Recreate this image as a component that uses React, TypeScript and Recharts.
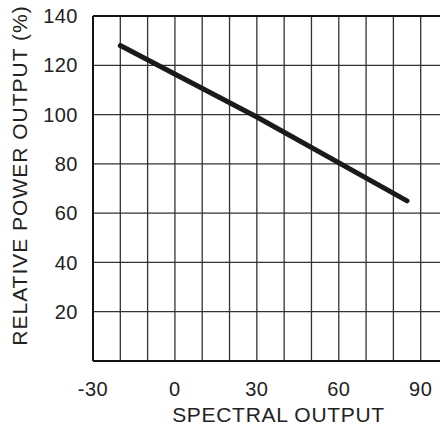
import { CartesianGrid, Line, LineChart, ReferenceLine, XAxis, YAxis } from 'recharts'

const spectralOutput = [-20, 30, 85]
const relativePower = [128, 99, 65]

const xGridTicks = [-30, -20, -10, 0, 10, 20, 30, 40, 50, 60, 70, 80, 90, 100]
const xLabelTicks = [-30, 0, 30, 60, 90]
const yTicks = [0, 20, 40, 60, 80, 100, 120, 140]

const data = spectralOutput.map((x, i) => ({ x, y: relativePower[i] }))

const font = '"Liberation Sans", Arial, Helvetica, sans-serif'
const tickStyle = { fontSize: 20, fill: '#222', fontFamily: font, letterSpacing: 0.5 }

export default function App() {
  return (
    <div style={{ position: 'fixed', left: 0, top: 0, width: 440, height: 431, overflow: 'hidden', background: '#fff' }}>
      <LineChart width={458} height={431} data={data} margin={{ top: 16, right: 10, left: 0, bottom: 0 }}>
        <CartesianGrid stroke="#333" strokeWidth={1.3} />
        <XAxis
          type="number"
          dataKey="x"
          domain={[-30, 100]}
          ticks={xGridTicks}
          interval={0}
          height={70}
          tickLine={false}
          tickSize={0}
          tickMargin={21}
          axisLine={{ stroke: '#111', strokeWidth: 2 }}
          tick={tickStyle}
          tickFormatter={(v) => (xLabelTicks.includes(v) ? String(v) : '')}
          label={{
            value: 'SPECTRAL OUTPUT',
            position: 'insideBottom',
            offset: 9,
            dx: 8,
            style: { fontSize: 21, fill: '#222', fontFamily: font, letterSpacing: 0.7 },
          }}
        />
        <YAxis
          type="number"
          domain={[0, 140]}
          ticks={yTicks}
          interval={0}
          width={93}
          tickLine={false}
          tickSize={0}
          tickMargin={15}
          axisLine={{ stroke: '#111', strokeWidth: 2 }}
          tick={tickStyle}
          tickFormatter={(v) => (v === 0 ? '' : String(v))}
          label={{
            value: 'RELATIVE POWER OUTPUT (%)',
            position: 'center',
            angle: -90,
            dx: -27,
            dy: -13,
            style: { fontSize: 21, fill: '#222', fontFamily: font, letterSpacing: 1 },
          }}
        />
        <ReferenceLine y={140} stroke="#111" strokeWidth={2} />
        <Line
          type="linear"
          dataKey="y"
          stroke="#1a1a1a"
          strokeWidth={5}
          strokeLinecap="round"
          dot={false}
          activeDot={false}
          isAnimationActive={false}
        />
      </LineChart>
    </div>
  )
}
